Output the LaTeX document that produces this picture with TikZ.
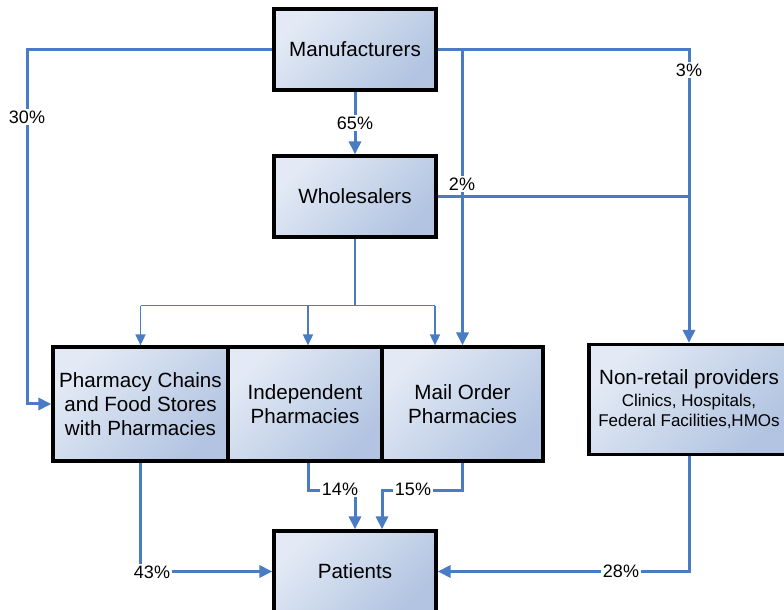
\documentclass[tikz,border=0pt]{standalone}
\usepackage{fontspec}
\setmainfont{Liberation Sans}
\usetikzlibrary{arrows.meta,calc}

\definecolor{flowblue}{HTML}{4A7CC4}
\definecolor{boxlight}{HTML}{E3EAF5}
\definecolor{boxdark}{HTML}{B2C4E1}

\begin{document}
\begin{tikzpicture}[x=0.5pt,y=-0.5pt,
  box/.style={draw=black, line width=1.6pt, top color=boxlight, bottom color=boxdark,
    shading angle=45, align=center, inner sep=0pt,
    font=\fontsize{10.3}{12}\selectfont},
  line/.style={draw=flowblue, line width=1.5pt},
  flow/.style={line, -{Triangle[width=6pt,length=6.5pt]}},
  thinline/.style={draw=flowblue, line width=0.85pt},
  thinflow/.style={thinline, -{Triangle[width=5pt,length=5.5pt]}},
  pct/.style={fill=white, inner sep=1pt, text=black, font=\fontsize{9}{10}\selectfont}
]
\useasboundingbox (0,0) rectangle (784,610);
\clip (0,0) rectangle (784,610);

% boxes
\node[box, minimum width=81pt, minimum height=40.5pt] (man) at (355,49.5) {Manufacturers};
\node[box, minimum width=81pt, minimum height=40.5pt] (whl) at (355,196.5) {Wholesalers};
\node[box, minimum width=87.5pt, minimum height=57pt] (chain) at (140.5,404)
  {Pharmacy Chains\\and Food Stores\\with Pharmacies};
\node[box, minimum width=77pt, minimum height=57pt] (ind) at (305,404)
  {Independent\\Pharmacies};
\node[box, minimum width=80.5pt, minimum height=57pt] (mail) at (462.5,404)
  {Mail Order\\Pharmacies};
\node[box, minimum width=100pt, minimum height=55pt, font=\fontsize{8.5}{10}\selectfont] (nonret) at (689,399.5)
  {{\fontsize{10.3}{12}\selectfont Non-retail providers}\\[1pt]Clinics, Hospitals,\\Federal Facilities,HMOs};
\node[box, minimum width=81pt, minimum height=40.5pt] (pat) at (355,571.5) {Patients};

% helper points on the connectors
\coordinate (hub) at ($(whl.south)+(0,67)$);
\coordinate (ta) at ($(ind.north)+(3,0)$);
\coordinate (tb) at ($(mail.north)+(-27.5,0)$);
\coordinate (ba) at ($(ind.south)+(3,0)$);
\coordinate (pb) at ($(pat.north)+(27,0)$);

% manufacturers outflows
\draw[flow] (man.west) -- (27,49.5) |- (chain.west);
\draw[flow] (man.south) -- (whl.north);
\draw[flow] (man.east) -| (nonret.north);
\draw[flow] (mail.north |- man.east) -- (mail.north);

% wholesalers outflows
\draw[line] (whl.east) -- (whl.east -| nonret.north);
\draw[thinline] (whl.south) -- (hub);
\draw[thinline] (chain.north |- hub) -- (tb |- hub);
\draw[thinflow] (chain.north |- hub) -- (chain.north);
\draw[thinflow] (ta |- hub) -- (ta);
\draw[thinflow] (tb |- hub) -- (tb);

% flows to patients
\draw[flow] (chain.south) |- (pat.west);
\draw[flow] (ba) -- ++(0,28) -| (pat.north);
\draw[flow] (mail.south) -- ++(0,28) -| (pb);
\draw[flow] (nonret.south) |- (pat.east);

% shares
\node[pct] (p30) at (27,117) {30\%};
\node[pct] (p65) at (355,123) {65\%};
\node[pct] (p3) at (689,70) {3\%};
\node[pct] (p2) at (462,184) {2\%};
\node[pct] (p14) at (340,489) {14\%};
\node[pct] (p15) at (413,489) {15\%};
\node[pct] (p43) at (152,572) {43\%};
\node[pct] (p28) at (621,571.5) {28\%};
\end{tikzpicture}
\end{document}
